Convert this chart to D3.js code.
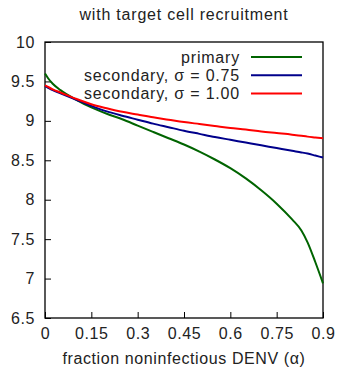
<!DOCTYPE html>
<html>
<head>
<meta charset="utf-8">
<script src="https://cdn.jsdelivr.net/npm/d3@7"></script>
<style>
  body { margin: 0; background: #fff; }
  text { font-family: "Liberation Sans", Arial, sans-serif; fill: #222; }
</style>
</head>
<body>
<div id="chart"></div>
<script>
// values
var alphas  = [0, 0.01, 0.025, 0.05, 0.1, 0.15, 0.2, 0.25, 0.3, 0.35, 0.4, 0.45, 0.5, 0.55, 0.6, 0.65, 0.7, 0.75, 0.8, 0.83, 0.85, 0.875, 0.9];
var primary = [9.6, 9.54, 9.47, 9.39, 9.27, 9.17, 9.09, 9.02, 8.94, 8.86, 8.78, 8.70, 8.61, 8.51, 8.40, 8.27, 8.12, 7.95, 7.75, 7.61, 7.46, 7.21, 6.94];
var sec075  = [9.44, 9.42, 9.39, 9.35, 9.27, 9.19, 9.12, 9.065, 9.015, 8.965, 8.92, 8.875, 8.835, 8.795, 8.76, 8.725, 8.69, 8.655, 8.62, 8.60, 8.585, 8.56, 8.535];
var sec100  = [9.45, 9.43, 9.40, 9.36, 9.28, 9.21, 9.16, 9.115, 9.08, 9.045, 9.015, 8.985, 8.96, 8.935, 8.91, 8.89, 8.865, 8.845, 8.825, 8.81, 8.80, 8.79, 8.78];
var seriesNames  = ["primary", "secondary, \u03c3 = 0.75", "secondary, \u03c3 = 1.00"];
var seriesColors = ["#006400", "#00008b", "#ff0000"];
var xTicks = [0, 0.15, 0.3, 0.45, 0.6, 0.75, 0.9];
var yTicks = [6.5, 7, 7.5, 8, 8.5, 9, 9.5, 10];

var W = 341, H = 374,
    padL = 45, padR = 323, padT = 42, padB = 318;

var svg = d3.select("#chart").append("svg")
  .attr("width", W)
  .attr("height", H);

var x = d3.scaleLinear().domain([0, 0.9]).range([padL, padR]);
var y = d3.scaleLinear().domain([6.5, 10]).range([padB, padT]);

// title
svg.append("text")
  .attr("x", 184).attr("y", 20)
  .attr("text-anchor", "middle")
  .style("font-size", "16px").style("letter-spacing", "0.8px")
  .text("with target cell recruitment");

// axes (ticks inward)
var xAxis = d3.axisBottom(x).tickValues(xTicks).tickSizeInner(-6).tickSizeOuter(0)
  .tickPadding(10).tickFormat(d3.format("~g"));
var gx = svg.append("g").attr("transform", "translate(0," + padB + ")").call(xAxis);

var yAxis = d3.axisLeft(y).tickValues(yTicks).tickSizeInner(-6).tickSizeOuter(0)
  .tickPadding(10).tickFormat(d3.format("~g"));
var gy = svg.append("g").attr("transform", "translate(" + padL + ",0)").call(yAxis);

[gx, gy].forEach(function(g) {
  g.select(".domain").remove();
  g.selectAll(".tick line").attr("stroke", "#000");
  g.selectAll(".tick text").style("font-size", "16px").style("letter-spacing", "0.6px")
    .attr("fill", "#222");
});

// border
svg.append("rect")
  .attr("x", padL).attr("y", padT)
  .attr("width", padR - padL).attr("height", padB - padT)
  .attr("fill", "none").attr("stroke", "#000").attr("stroke-width", 1.3);

// x label
svg.append("text")
  .attr("x", 184).attr("y", 364)
  .attr("text-anchor", "middle")
  .style("font-size", "16px").style("letter-spacing", "0.6px")
  .text("fraction noninfectious DENV (\u03b1)");

// curves
var allSeries = [primary, sec075, sec100];
var line = d3.line()
  .x(function(d, i) { return x(alphas[i]); })
  .y(function(d) { return y(d); })
  .curve(d3.curveMonotoneX);

svg.append("g").selectAll("path")
  .data(allSeries)
  .enter().append("path")
  .attr("d", line)
  .attr("fill", "none")
  .attr("stroke", function(d, i) { return seriesColors[i]; })
  .attr("stroke-width", 2);

// legend
var legend = svg.append("g").selectAll("g")
  .data(seriesNames)
  .enter().append("g")
  .attr("transform", function(d, i) { return "translate(0," + (57 + i * 18.3) + ")"; });

legend.append("text")
  .attr("x", 240).attr("y", 5.5)
  .attr("text-anchor", "end")
  .style("font-size", "16px").style("letter-spacing", "0.8px")
  .text(function(d) { return d; });

legend.append("line")
  .attr("x1", 251).attr("x2", 302)
  .attr("stroke", function(d, i) { return seriesColors[i]; })
  .attr("stroke-width", 2);
</script>
</body>
</html>
